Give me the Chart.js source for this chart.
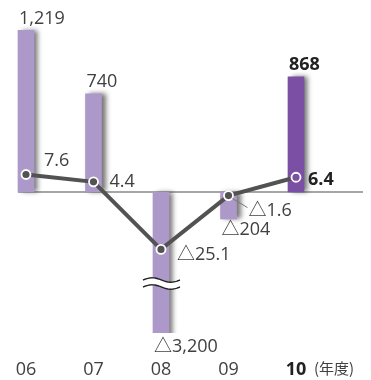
<!DOCTYPE html>
<html lang="ja">
<head>
<meta charset="UTF-8">
<title>経常利益・経常利益率</title>
<script src="https://cdn.jsdelivr.net/npm/chart.js"></script>
<style>
  html, body { margin: 0; padding: 0; background: #fff; }
  #wrap { width: 371px; height: 380px; }
</style>
</head>
<body>
<div id="wrap"><canvas id="profitChart" width="371" height="380"></canvas></div>
<script>
// 年度
const years = ['06', '07', '08', '09', '10'];
// 利益（億円）
const profitValues = [1219, 740, -3200, -204, 868];
// 利益率（%）
const rateValues = [7.6, 4.4, -25.1, -1.6, 6.4];

const latest = years.length - 1;
const lightPurple = '#ad98ca';
const darkPurple = '#7b50a4';
const lineGray = '#525252';
const textColor = '#404040';
const fontFamily = '"Open Sans", "Noto Sans CJK JP", sans-serif';
const cjkFamily = '"Noto Sans CJK JP", sans-serif';

// 波線で省略する位置（利益軸の値）
const breakAt = -690;

// △ はマイナス
const fmtProfit = v => (v < 0 ? '△' : '') + Math.abs(v).toLocaleString('en-US');
const fmtRate = v => (v < 0 ? '△' : '') + Math.abs(v).toFixed(1);

// ラベル位置のずらし量 [x, y]（点からの距離）
const rateOffsets = [[18, -9], [16, 5], [16, 10.5], [20, 20], [12, 8]];

// 棒の右側に影をつける
const barShadow = {
  id: 'barShadow',
  beforeDatasetDraw(chart, args) {
    if (args.index !== 0) return;
    const ctx = chart.ctx;
    ctx.save();
    ctx.shadowColor = 'rgba(0, 0, 0, 0.55)';
    ctx.shadowBlur = 5;
    ctx.shadowOffsetX = 4;
  },
  afterDatasetDraw(chart, args) {
    if (args.index !== 0) return;
    const ctx = chart.ctx;
    ctx.restore();

    // 08年度の棒に波線（省略記号）
    const bar = chart.getDatasetMeta(0).data[2];
    const yc = chart.scales.y.getPixelForValue(breakAt);
    const x0 = bar.x - 18, x1 = bar.x + 19, amp = 2.2, gap = 3.5;
    const wave = (dy, dir) => {
      const pts = [];
      for (let x = x0; x <= x1; x++) {
        const t = (x - x0) / (x1 - x0);
        pts.push([x, yc + dy - amp * Math.sin(t * 2 * Math.PI)]);
      }
      return dir < 0 ? pts.reverse() : pts;
    };
    ctx.save();
    ctx.beginPath();
    wave(-gap, 1).forEach(([x, y], i) => i ? ctx.lineTo(x, y) : ctx.moveTo(x, y));
    wave(gap, -1).forEach(([x, y]) => ctx.lineTo(x, y));
    ctx.closePath();
    ctx.fillStyle = '#fff';
    ctx.fill();
    ctx.strokeStyle = '#222';
    ctx.lineWidth = 1.4;
    [-gap, gap].forEach(dy => {
      ctx.beginPath();
      wave(dy, 1).forEach(([x, y], i) => i ? ctx.lineTo(x, y) : ctx.moveTo(x, y));
      ctx.stroke();
    });
    ctx.restore();
  }
};

// ゼロの基準線
const zeroLine = {
  id: 'zeroLine',
  beforeDatasetsDraw(chart) {
    const ctx = chart.ctx;
    const y0 = chart.scales.y.getPixelForValue(0);
    const first = chart.getDatasetMeta(0).data[0];
    ctx.save();
    ctx.strokeStyle = '#a6a6a6';
    ctx.lineWidth = 2;
    ctx.beginPath();
    ctx.moveTo(first.x - first.width / 2, y0);
    ctx.lineTo(chart.chartArea.right + 67, y0);
    ctx.stroke();
    ctx.restore();
  }
};

// 数値ラベルと単位
const valueLabels = {
  id: 'valueLabels',
  afterDatasetsDraw(chart) {
    const ctx = chart.ctx;
    const bottom = chart.chartArea.bottom;
    const bars = chart.getDatasetMeta(0).data;
    const pts = chart.getDatasetMeta(1).data;
    ctx.save();
    ctx.textAlign = 'left';
    ctx.textBaseline = 'alphabetic';

    bars.forEach((bar, i) => {
      const v = profitValues[i];
      const left = bar.x - bar.width / 2 + 1;
      let y;
      if (v >= 0) y = bar.y - 6.5;
      else if (bar.y > bottom) y = bottom + 19;
      else y = bar.y + 16;
      ctx.font = (i === latest ? 'bold ' : '') + '18px ' + fontFamily;
      ctx.fillStyle = i === latest ? '#222' : textColor;
      ctx.fillText(fmtProfit(v), left, y);
    });

    pts.forEach((pt, i) => {
      const [dx, dy] = rateOffsets[i];
      if (rateValues[i] < 0 && dy >= 20) {
        // 引き出し線
        ctx.strokeStyle = '#777';
        ctx.lineWidth = 1;
        ctx.beginPath();
        ctx.moveTo(pt.x + 4, pt.y + 3);
        ctx.lineTo(pt.x + dx - 1, pt.y + dy - 8);
        ctx.stroke();
      }
      ctx.font = (i === latest ? 'bold ' : '') + '18px ' + fontFamily;
      ctx.fillStyle = i === latest ? '#222' : textColor;
      ctx.fillText(fmtRate(rateValues[i]), pt.x + dx, pt.y + dy);
    });

    ctx.font = '15px ' + cjkFamily;
    ctx.fillStyle = textColor;
    ctx.fillText('(年度)', 314, 374);
    ctx.restore();
  }
};

new Chart(document.getElementById('profitChart'), {
  type: 'bar',
  data: {
    labels: years,
    datasets: [
      {
        type: 'bar',
        data: profitValues,
        yAxisID: 'y',
        order: 2,
        barThickness: 16,
        backgroundColor: profitValues.map((_, i) => i === latest ? darkPurple : lightPurple),
        clip: { left: 20, top: 20, right: 30, bottom: 0 }
      },
      {
        type: 'line',
        data: rateValues,
        yAxisID: 'y2',
        order: 1,
        borderColor: lineGray,
        borderWidth: 4,
        tension: 0,
        pointRadius: 4.5,
        pointBorderWidth: 1.8,
        pointBorderColor: '#fff',
        pointBackgroundColor: rateValues.map((_, i) => i === latest ? darkPurple : lineGray),
        clip: false
      }
    ]
  },
  options: {
    responsive: false,
    animation: false,
    layout: { autoPadding: false, padding: { left: 26, right: 75, top: 0, bottom: 0 } },
    plugins: {
      legend: { display: false },
      tooltip: { enabled: false }
    },
    scales: {
      x: {
        offset: false,
        grid: { display: false, drawTicks: false },
        border: { display: false },
        ticks: {
          padding: 26,
          maxRotation: 0,
          autoSkip: false,
          color: c => c.index === latest ? '#222' : textColor,
          font: c => ({ family: fontFamily, size: 18, weight: c.index === latest ? 'bold' : 'normal' })
        },
        afterFit(scale) {
          scale.height = 47;
          scale.paddingLeft = 0;
          scale.paddingRight = 0;
        }
      },
      y: { display: false, min: -1063, max: 1447 },
      y2: { display: false, min: -61.6, max: 83.8 }
    }
  },
  plugins: [zeroLine, barShadow, valueLabels]
});
</script>
</body>
</html>
